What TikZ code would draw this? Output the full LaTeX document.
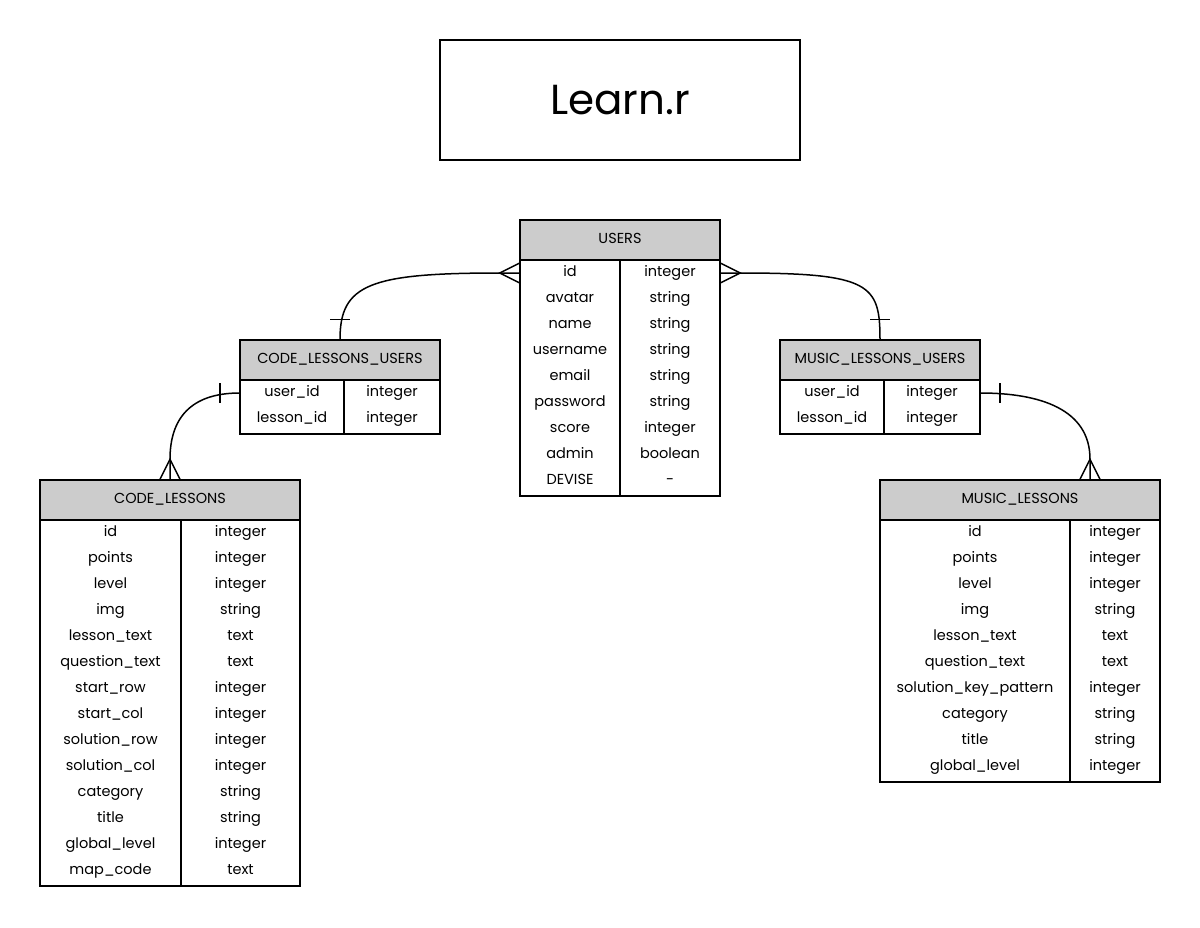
\documentclass[tikz,border=0pt]{standalone}
\usepackage{fontspec}
\setmainfont{Poppins}
\usetikzlibrary{calc,positioning}
\definecolor{headgray}{HTML}{CCCCCC}
\tikzset{
	tblhead/.style={draw, fill=headgray, line width=1.5pt, minimum height=40, inner sep=0pt, text height=10, text depth=3, font=\fontsize{14.5}{14.5}\selectfont},
	tblbody/.style={draw, line width=1.5pt, inner sep=0pt},
	cell/.style={inner sep=0pt, minimum height=26, text height=10, text depth=3, font=\fontsize{14.5}{14.5}\selectfont},
	link/.style={line width=1.5pt},
}
\begin{document}
\begin{tikzpicture}[x=1pt, y=-1pt]
	\useasboundingbox (0,0) rectangle (1200,927);
	\node[draw, line width=1.5pt, minimum width=360, minimum height=120, font=\fontsize{42}{42}\selectfont] (title) at (620,100) {Learn.r};

	\node[tblhead, minimum width=200] (users) at (620,240) {USERS};
	\node[tblbody, minimum width=200, minimum height=236] (users-body) at (620,378) {};
	\foreach \f/\t [count=\i] in {id/integer, avatar/string, name/string, username/string, email/string, password/string, score/integer, admin/boolean, DEVISE/-} {
		\node[cell, minimum width=100] (users-k\i) at (570,247+26*\i) {\f};
		\node[cell, minimum width=100] (users-v\i) at (670,247+26*\i) {\t};
	}
	\draw[link] (users-body.north -| users-v1.west) -- (users-body.south -| users-v1.west);

	\node[tblhead, minimum width=200] (clu) at (340,360) {CODE\_LESSONS\_USERS};
	\node[tblbody, minimum width=200, minimum height=54] (clu-body) at (340,407) {};
	\foreach \f/\t [count=\i] in {user\_id/integer, lesson\_id/integer} {
		\node[cell, minimum width=104] (clu-k\i) at (292,367+26*\i) {\f};
		\node[cell, minimum width=96] (clu-v\i) at (392,367+26*\i) {\t};
	}
	\draw[link] (clu-body.north -| clu-v1.west) -- (clu-body.south -| clu-v1.west);

	\node[tblhead, minimum width=200] (mlu) at (880,360) {MUSIC\_LESSONS\_USERS};
	\node[tblbody, minimum width=200, minimum height=54] (mlu-body) at (880,407) {};
	\foreach \f/\t [count=\i] in {user\_id/integer, lesson\_id/integer} {
		\node[cell, minimum width=104] (mlu-k\i) at (832,367+26*\i) {\f};
		\node[cell, minimum width=96] (mlu-v\i) at (932,367+26*\i) {\t};
	}
	\draw[link] (mlu-body.north -| mlu-v1.west) -- (mlu-body.south -| mlu-v1.west);

	\node[tblhead, minimum width=260] (cl) at (170,500) {CODE\_LESSONS};
	\node[tblbody, minimum width=260, minimum height=366] (cl-body) at (170,703) {};
	\foreach \f/\t [count=\i] in {id/integer, points/integer, level/integer, img/string, lesson\_text/text, question\_text/text, start\_row/integer, start\_col/integer, solution\_row/integer, solution\_col/integer, category/string, title/string, global\_level/integer, map\_code/text} {
		\node[cell, minimum width=141] (cl-k\i) at (110.5,507+26*\i) {\f};
		\node[cell, minimum width=119] (cl-v\i) at (240.5,507+26*\i) {\t};
	}
	\draw[link] (cl-body.north -| cl-v1.west) -- (cl-body.south -| cl-v1.west);

	\node[tblhead, minimum width=280] (ml) at (1020,500) {MUSIC\_LESSONS};
	\node[tblbody, minimum width=280, minimum height=262] (ml-body) at (1020,651) {};
	\foreach \f/\t [count=\i] in {id/integer, points/integer, level/integer, img/string, lesson\_text/text, question\_text/text, solution\_key\_pattern/integer, category/string, title/string, global\_level/integer} {
		\node[cell, minimum width=190] (ml-k\i) at (975,507+26*\i) {\f};
		\node[cell, minimum width=90] (ml-v\i) at (1115,507+26*\i) {\t};
	}
	\draw[link] (ml-body.north -| ml-v1.west) -- (ml-body.south -| ml-v1.west);

	\draw[link] (users-k1.west) -- ++(-20,0) .. controls +(-130,0) and +(0,-55) .. (clu.north);
	\draw[link] ($(users-k1.west)+(0,-10)$) -- ($(users-k1.west)+(-20,0)$) -- ($(users-k1.west)+(0,10)$);
	\draw[link] ($(clu.north)+(-10,-20)$) -- ($(clu.north)+(10,-20)$);

	\draw[link] (users-v1.east) -- ++(20,0) .. controls +(130,0) and +(0,-55) .. (mlu.north);
	\draw[link] ($(users-v1.east)+(0,-10)$) -- ($(users-v1.east)+(20,0)$) -- ($(users-v1.east)+(0,10)$);
	\draw[link] ($(mlu.north)+(-10,-20)$) -- ($(mlu.north)+(10,-20)$);

	\draw[link] (clu-k1.west) .. controls +(-50,0) and +(0,-40) .. ($(cl.north)+(0,-20)$) -- (cl.north);
	\draw[link] ($(cl.north)+(-10,0)$) -- ($(cl.north)+(0,-20)$) -- ($(cl.north)+(10,0)$);
	\draw[link] ($(clu-k1.west)+(-20,-10)$) -- ($(clu-k1.west)+(-20,10)$);

	\draw[link] (mlu-v1.east) .. controls +(60,0) and +(0,-50) .. ($(ml.north)+(70,-20)$) -- ($(ml.north)+(70,0)$);
	\draw[link] ($(ml.north)+(60,0)$) -- ($(ml.north)+(70,-20)$) -- ($(ml.north)+(80,0)$);
	\draw[link] ($(mlu-v1.east)+(20,-10)$) -- ($(mlu-v1.east)+(20,10)$);
\end{tikzpicture}
\end{document}
